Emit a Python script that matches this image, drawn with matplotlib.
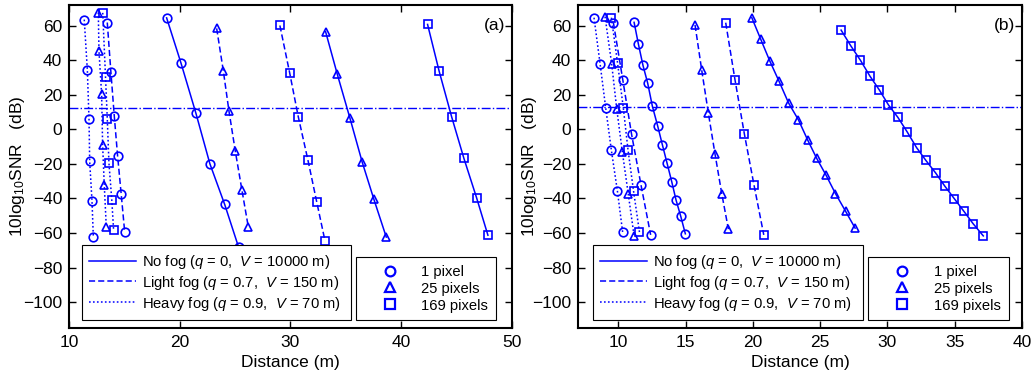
import matplotlib
matplotlib.use("Agg")
import matplotlib.pyplot as plt
from matplotlib.lines import Line2D

plt.rcParams['font.family'] = ['Liberation Sans', 'DejaVu Sans']
plt.rcParams['mathtext.fontset'] = 'custom'
plt.rcParams['mathtext.rm'] = 'Liberation Sans'
plt.rcParams['mathtext.it'] = 'Liberation Sans:italic'
plt.rcParams['font.size'] = 12.5

# ---------------- Panel (a) data ----------------
a_nofog_1_x = [18.82, 20.11, 21.47, 22.73, 24.06, 25.32]
a_nofog_1_y = [64.5, 38.5, 9.2, -20.0, -43.4, -68.2]
a_light_1_x = [13.46, 13.79, 14.09, 14.39, 14.72, 15.03]
a_light_1_y = [61.8, 32.9, 7.9, -15.2, -37.7, -59.2]
a_heavy_1_x = [11.38, 11.66, 11.81, 11.87, 12.08, 12.20]
a_heavy_1_y = [63.5, 34.3, 5.8, -18.5, -41.4, -62.2]

a_nofog_25_x = [33.18, 34.23, 35.38, 36.49, 37.54, 38.66]
a_nofog_25_y = [56.5, 32.0, 6.4, -19.1, -40.5, -62.4]
a_light_25_x = [23.34, 23.94, 24.45, 25.02, 25.62, 26.20]
a_light_25_y = [58.4, 33.9, 10.6, -12.5, -35.1, -56.6]
a_heavy_25_x = [12.65, 12.71, 12.95, 13.04, 13.19, 13.37]
a_heavy_25_y = [67.6, 45.3, 20.2, -9.2, -32.5, -56.3]

a_nofog_169_x = [42.39, 43.44, 44.56, 45.67, 46.81, 47.84]
a_nofog_169_y = [60.7, 33.5, 7.3, -16.8, -39.5, -61.3]
a_light_169_x = [29.05, 29.93, 30.71, 31.58, 32.37, 33.12]
a_light_169_y = [60.1, 32.8, 7.3, -17.7, -41.8, -64.4]
a_heavy_169_x = [13.05, 13.30, 13.46, 13.61, 13.87, 14.03]
a_heavy_169_y = [67.4, 30.5, 6.1, -19.4, -41.2, -58.2]

# ---------------- Panel (b) data ----------------
b_nofog_1_x = [11.17, 11.49, 11.83, 12.18, 12.53, 12.93, 13.27, 13.62, 13.97, 14.29, 14.64, 14.98]
b_nofog_1_y = [61.9, 49.3, 37.0, 26.7, 13.3, 1.7, -8.9, -19.6, -30.4, -41.0, -50.4, -60.5]
b_light_1_x = [9.63, 10.33, 10.98, 11.69, 12.40]
b_light_1_y = [61.8, 28.6, -2.8, -32.5, -61.1]
b_heavy_1_x = [8.19, 8.64, 9.06, 9.48, 9.93, 10.32]
b_heavy_1_y = [64.6, 38.0, 12.3, -12.1, -35.8, -59.6]

b_nofog_25_x = [19.92, 20.59, 21.26, 21.95, 22.65, 23.39, 24.08, 24.75, 25.45, 26.14, 26.89, 27.60]
b_nofog_25_y = [64.6, 52.0, 39.5, 27.7, 15.3, 5.4, -6.3, -16.9, -26.7, -37.2, -47.4, -57.2]
b_light_25_x = [15.70, 16.20, 16.69, 17.19, 17.69, 18.18]
b_light_25_y = [60.4, 34.1, 9.4, -14.5, -37.4, -57.8]
b_heavy_25_x = [9.01, 9.50, 9.88, 10.30, 10.74, 11.17]
b_heavy_25_y = [65.2, 38.0, 11.8, -13.4, -37.7, -61.7]

b_nofog_169_x = [26.56, 27.28, 28.00, 28.70, 29.39, 30.08, 30.78, 31.47,
                 32.17, 32.86, 33.58, 34.27, 34.97, 35.69, 36.38, 37.13]
b_nofog_169_y = [57.4, 48.3, 39.9, 30.8, 22.9, 14.1, 6.9, -1.5,
                 -10.6, -18.0, -25.2, -32.9, -40.1, -47.5, -54.7, -61.7]
b_light_169_x = [17.98, 18.67, 19.37, 20.09, 20.81]
b_light_169_y = [61.7, 28.7, -2.8, -32.5, -61.1]
b_heavy_169_x = [9.48, 9.94, 10.37, 10.72, 11.13, 11.57]
b_heavy_169_y = [64.6, 38.4, 12.3, -12.1, -35.8, -59.6]

threshold_a = 12.3
threshold_b = 13.0

fog_labels = ['No fog ($q$ = 0,  $V$ = 10000 m)',
              'Light fog ($q$ = 0.7,  $V$ = 150 m)',
              'Heavy fog ($q$ = 0.9,  $V$ = 70 m)']
pixel_labels = ['1 pixel', '25 pixels', '169 pixels']

BLUE = (0, 0, 1)
LS = {'nofog': '-', 'light': (0, (4, 2)), 'heavy': (0, (1.1, 1.5))}
MK = {'1': 'o', '25': '^', '169': 's'}
LEG_FS = 10.6

fig = plt.figure(figsize=(10.34, 3.77), dpi=100)
ax_a = fig.add_axes([0.0667, 0.130, 0.4283, 0.857])
ax_b = fig.add_axes([0.559, 0.130, 0.4293, 0.857])


def draw(ax, series, thr, xlim, xticks, tag, ylab_x):
    for (xs, ys, fog, pix) in series:
        ax.plot(xs, ys, color=BLUE, linestyle=LS[fog], linewidth=1.1,
                marker=MK[pix], markersize=6.2, markerfacecolor='none',
                markeredgecolor=BLUE, markeredgewidth=1.2, zorder=3)
    ax.axhline(thr, color=BLUE, linestyle='-.', linewidth=1.0, zorder=2)
    ax.set_xlim(*xlim)
    ax.set_ylim(-115, 72)
    ax.set_xticks(xticks)
    ax.set_yticks(range(-100, 61, 20))
    ax.tick_params(direction='in', top=True, right=True, length=5, width=1.0, pad=5)
    for s in ax.spines.values():
        s.set_linewidth(1.5)
    ax.set_xlabel('Distance (m)', labelpad=4)
    ax.set_ylabel('10log$_{10}$SNR   (dB)')
    ax.yaxis.set_label_coords(ylab_x, 0.5)
    ax.text(0.985, 0.96, tag, transform=ax.transAxes, ha='right', va='top')

    h1 = [Line2D([], [], color=BLUE, linestyle=LS[k], linewidth=1.1)
          for k in ['nofog', 'light', 'heavy']]
    h2 = [Line2D([], [], color=BLUE, linestyle='none', marker=MK[k], markersize=7,
                 markerfacecolor='none', markeredgewidth=1.6)
          for k in ['1', '25', '169']]
    return h1, h2


series_a = [
    (a_nofog_1_x, a_nofog_1_y, 'nofog', '1'), (a_light_1_x, a_light_1_y, 'light', '1'),
    (a_heavy_1_x, a_heavy_1_y, 'heavy', '1'),
    (a_nofog_25_x, a_nofog_25_y, 'nofog', '25'), (a_light_25_x, a_light_25_y, 'light', '25'),
    (a_heavy_25_x, a_heavy_25_y, 'heavy', '25'),
    (a_nofog_169_x, a_nofog_169_y, 'nofog', '169'), (a_light_169_x, a_light_169_y, 'light', '169'),
    (a_heavy_169_x, a_heavy_169_y, 'heavy', '169'),
]
series_b = [
    (b_nofog_1_x, b_nofog_1_y, 'nofog', '1'), (b_light_1_x, b_light_1_y, 'light', '1'),
    (b_heavy_1_x, b_heavy_1_y, 'heavy', '1'),
    (b_nofog_25_x, b_nofog_25_y, 'nofog', '25'), (b_light_25_x, b_light_25_y, 'light', '25'),
    (b_heavy_25_x, b_heavy_25_y, 'heavy', '25'),
    (b_nofog_169_x, b_nofog_169_y, 'nofog', '169'), (b_light_169_x, b_light_169_y, 'light', '169'),
    (b_heavy_169_x, b_heavy_169_y, 'heavy', '169'),
]

for ax, series, thr, xlim, xticks, tag, l1, l2, ylx in [
        (ax_a, series_a, threshold_a, (10, 50), [10, 20, 30, 40, 50], '(a)',
         (0.029, 0.025, 0.608, 0.223), (0.648, 0.025, 0.316, 0.223), -0.095),
        (ax_b, series_b, threshold_b, (7, 40), [10, 15, 20, 25, 30, 35, 40], '(b)',
         (0.033, 0.025, 0.608, 0.223), (0.654, 0.025, 0.317, 0.223), -0.088)]:
    h1, h2 = draw(ax, series, thr, xlim, xticks, tag, ylx)
    common = dict(loc='lower left', mode='expand', frameon=True, fancybox=False,
                  edgecolor='black', framealpha=1, borderpad=0.5, labelspacing=0.2,
                  borderaxespad=0, fontsize=LEG_FS)
    leg1 = ax.legend(h1, fog_labels, bbox_to_anchor=l1, handlelength=3.2,
                     handletextpad=0.4, **common)
    leg1.get_frame().set_linewidth(0.8)
    leg1.set_zorder(5)
    ax.add_artist(leg1)
    leg2 = ax.legend(h2, pixel_labels, bbox_to_anchor=l2, handlelength=3.6,
                     handletextpad=0.35, **common)
    leg2.get_frame().set_linewidth(0.8)

fig.savefig('out.png', dpi=100)
